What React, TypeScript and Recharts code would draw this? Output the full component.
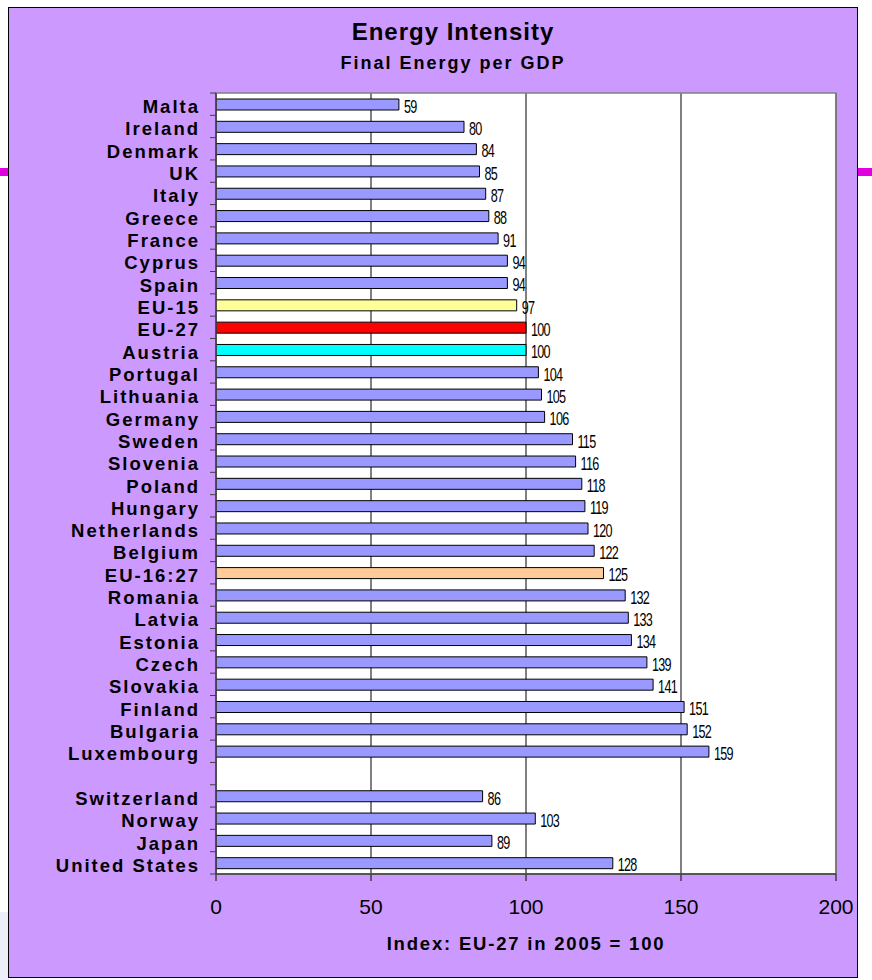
import React from 'react';
import { BarChart, Bar, XAxis, YAxis, CartesianGrid, Cell, LabelList, ReferenceArea } from 'recharts';

const categories = [
  'Malta', 'Ireland', 'Denmark', 'UK', 'Italy', 'Greece', 'France', 'Cyprus', 'Spain',
  'EU-15', 'EU-27', 'Austria', 'Portugal', 'Lithuania', 'Germany', 'Sweden', 'Slovenia',
  'Poland', 'Hungary', 'Netherlands', 'Belgium', 'EU-16:27', 'Romania', 'Latvia', 'Estonia',
  'Czech', 'Slovakia', 'Finland', 'Bulgaria', 'Luxembourg', '',
  'Switzerland', 'Norway', 'Japan', 'United States',
];

const values: (number | null)[] = [
  59, 80, 84, 85, 87, 88, 91, 94, 94,
  97, 100, 100, 104, 105, 106, 115, 116,
  118, 119, 120, 122, 125, 132, 133, 134,
  139, 141, 151, 152, 159, null,
  86, 103, 89, 128,
];

const xTicks = [0, 50, 100, 150, 200];

const specialColors: Record<string, string> = {
  'EU-15': '#FFFF99',
  'EU-27': '#FF0000',
  'Austria': '#00FFFF',
  'EU-16:27': '#FFCC99',
};
const defaultColor = '#9999FF';

const data = categories.map((name, i) => ({ name, value: values[i] }));

const CHART_W = 872;
const CHART_H = 980;
const M_TOP = 93;
const M_RIGHT = 36;
const X_AXIS_H = 60;
const M_BOTTOM = CHART_H - 874 - X_AXIS_H;
const Y_AXIS_W = 216;
const BAND = (CHART_H - M_TOP - M_BOTTOM - X_AXIS_H) / categories.length;

const FONT = '"Liberation Sans", Arial, sans-serif';

const YTick = (props: any) => {
  const { x, y, payload, index } = props;
  const axisX = x + 16;
  const isLast = index === categories.length - 1;
  return (
    <g>
      <line x1={axisX - 6} x2={axisX} y1={y - BAND / 2} y2={y - BAND / 2} stroke="#404040" strokeWidth={1} />
      {isLast && (
        <line x1={axisX - 6} x2={axisX} y1={y + BAND / 2} y2={y + BAND / 2} stroke="#404040" strokeWidth={1} />
      )}
      {payload.value ? (
        <text
          x={x}
          y={y + 2.5}
          textAnchor="end"
          dominantBaseline="central"
          fontFamily={FONT}
          fontWeight="bold"
          fontSize={18.5}
          letterSpacing={2}
          fill="#000"
        >
          {payload.value}
        </text>
      ) : null}
    </g>
  );
};

const ValueLabel = (props: any) => {
  const { x, y, width, height, value } = props;
  if (value === null || value === undefined) return null;
  const tx = Number(x) + Number(width) + 5;
  const ty = Number(y) + Number(height) / 2 + 2;
  return (
    <text
      transform={`translate(${tx},${ty}) scale(0.72,1)`}
      x={0}
      y={0}
      dominantBaseline="central"
      fontFamily={FONT}
      fontSize={17.5}
      letterSpacing={-1}
      fill="#000"
    >
      {value}
    </text>
  );
};

export default function App() {
  return (
    <div style={{ position: 'absolute', left: 0, top: 0, width: CHART_W, height: CHART_H, background: '#fff', overflow: 'hidden' }}>
      <div style={{ position: 'absolute', left: 0, top: 912, width: 9, height: 68, background: '#EEEEFA' }} />
      <div style={{ position: 'absolute', left: 0, top: 168, width: 9, height: 8, background: '#E000E0' }} />
      <div style={{ position: 'absolute', left: 858, top: 168, width: 14, height: 8, background: '#E000E0' }} />
      <div
        style={{
          position: 'absolute',
          left: 8,
          top: 7,
          width: 850,
          height: 971,
          background: '#CC99FF',
          border: '1.5px solid #000',
          boxSizing: 'border-box',
        }}
      />
      <div
        style={{
          position: 'absolute',
          left: 153,
          top: 20,
          width: 600,
          textAlign: 'center',
          fontFamily: FONT,
          fontWeight: 'bold',
          fontSize: 24,
          lineHeight: '24px',
          letterSpacing: 1,
          color: '#000',
        }}
      >
        Energy Intensity
      </div>
      <div
        style={{
          position: 'absolute',
          left: 153,
          top: 54,
          width: 600,
          textAlign: 'center',
          fontFamily: FONT,
          fontWeight: 'bold',
          fontSize: 18,
          lineHeight: '18px',
          letterSpacing: 2,
          color: '#000',
        }}
      >
        Final Energy per GDP
      </div>
      <div style={{ position: 'absolute', left: 0, top: 0, width: 858, height: CHART_H, overflow: 'hidden' }}>
        <BarChart
          width={CHART_W}
          height={CHART_H}
          data={data}
          layout="vertical"
          margin={{ top: M_TOP, right: M_RIGHT, bottom: M_BOTTOM, left: 0 }}
          barCategoryGap={0}
        >
          <CartesianGrid horizontal={false} vertical={true} stroke="#000" strokeWidth={1} fill="#fff" fillOpacity={1} />
          <ReferenceArea x1={0} x2={200} fill="none" stroke="#808080" strokeWidth={1.5} ifOverflow="visible" />
          <XAxis
            type="number"
            domain={[0, 200]}
            ticks={xTicks}
            interval={0}
            height={X_AXIS_H}
            tickSize={7}
            tickMargin={18}
            axisLine={{ stroke: '#404040', strokeWidth: 1.5 }}
            tickLine={{ stroke: '#404040', strokeWidth: 1.5 }}
            tick={{ fontFamily: FONT, fontSize: 21, fill: '#000' }}
            allowDataOverflow
          />
          <YAxis
            type="category"
            dataKey="name"
            width={Y_AXIS_W}
            interval={0}
            tickLine={false}
            tickSize={0}
            tickMargin={16}
            axisLine={{ stroke: '#404040', strokeWidth: 1.5 }}
            tick={<YTick />}
          />
          <Bar dataKey="value" barSize={11} stroke="#000" strokeWidth={1} isAnimationActive={false}>
            {data.map((d, i) => (
              <Cell key={i} fill={specialColors[d.name] || defaultColor} />
            ))}
            <LabelList dataKey="value" content={<ValueLabel />} />
          </Bar>
        </BarChart>
      </div>
      <div
        style={{
          position: 'absolute',
          left: 216,
          top: 935,
          width: 620,
          textAlign: 'center',
          fontFamily: FONT,
          fontWeight: 'bold',
          fontSize: 18.5,
          lineHeight: '18.5px',
          letterSpacing: 1.8,
          color: '#000',
        }}
      >
        Index: EU-27 in 2005 = 100
      </div>
    </div>
  );
}
